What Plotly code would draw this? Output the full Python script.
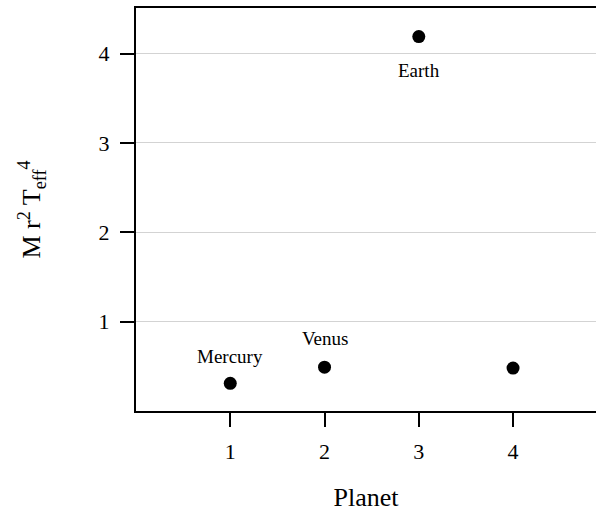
import plotly.graph_objects as go

# Planet index and the quantity M r^2 Teff^4 for each
planet = [1, 2, 3, 4]
value = [0.31, 0.49, 4.19, 0.48]

# Labelled points: name, planet index, value, vertical offset in px
label_names = ["Mercury", "Venus", "Earth"]
label_x = [1, 2, 3]
label_y = [0.31, 0.49, 4.19]
label_shift = [27, 29, -34]

x_ticks = [1, 2, 3, 4]
y_ticks = [1, 2, 3, 4]

FONT = "Liberation Serif, Times New Roman, serif"

fig = go.Figure()
fig.add_trace(go.Scatter(
    x=planet, y=value, mode="markers",
    marker=dict(size=13, color="black"),
    showlegend=False, hoverinfo="skip",
))

for name, xv, yv, sh in zip(label_names, label_x, label_y, label_shift):
    fig.add_annotation(
        x=xv, y=yv, text=name, showarrow=False,
        xanchor="center", yanchor="middle", yshift=sh,
        font=dict(family=FONT, size=19, color="black"),
    )

fig.update_layout(
    width=596, height=515,
    margin=dict(l=136, r=0, t=8, b=104),
    paper_bgcolor="white", plot_bgcolor="white",
    font=dict(family=FONT, color="black"),
    xaxis=dict(
        range=[0, 4.88], tickvals=x_ticks, ticktext=[str(t) for t in x_ticks],
        showgrid=False, zeroline=False,
        showline=True, linecolor="black", linewidth=2, mirror=True,
        ticks="outside", ticklen=14, tickwidth=2, tickcolor="black",
        tickfont=dict(family=FONT, size=22, color="black"),
        ticklabelstandoff=6,
        title=dict(text="Planet", font=dict(family=FONT, size=26, color="black"), standoff=24),
    ),
    yaxis=dict(
        range=[0, 4.51], tickvals=y_ticks, ticktext=[str(t) for t in y_ticks],
        showgrid=True, gridcolor="#d3d3d3", gridwidth=1, zeroline=False,
        showline=True, linecolor="black", linewidth=2, mirror=False,
        ticks="outside", ticklen=14, tickwidth=2, tickcolor="black",
        tickfont=dict(family=FONT, size=22, color="black"),
        ticklabelstandoff=6,
        title=dict(text="M r<sup>2</sup> T<sub>eff</sub><sup>4</sup>",
                   font=dict(family=FONT, size=26, color="black"), standoff=50),
    ),
)

fig.write_html("out.html")
